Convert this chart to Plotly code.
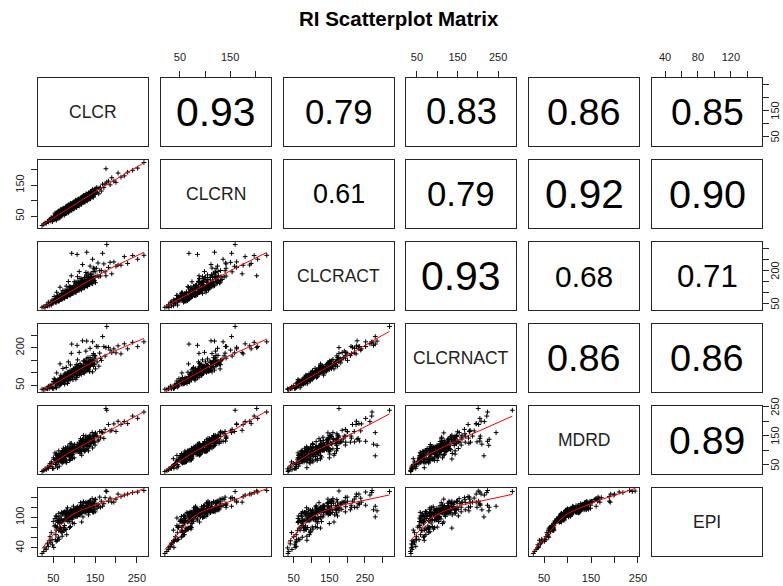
import numpy as np
import plotly.graph_objects as go

names = ["CLCR", "CLCRN", "CLCRACT", "CLCRNACT", "MDRD", "EPI"]

CLCR = [23, 27, 30, 33, 36, 38, 40, 42, 44, 45,
        47, 48, 50, 51, 52, 54, 55, 56, 57, 58,
        59, 60, 61, 62, 63, 64, 65, 66, 67, 68,
        69, 70, 70, 71, 72, 73, 74, 75, 76, 77,
        78, 79, 80, 80, 81, 82, 83, 84, 85, 86,
        87, 88, 88, 89, 90, 91, 92, 93, 94, 95,
        96, 96, 97, 98, 99, 100, 101, 102, 103, 104,
        104, 105, 106, 107, 108, 109, 110, 111, 112, 112,
        113, 114, 115, 116, 117, 118, 119, 120, 121, 122,
        123, 124, 125, 126, 127, 128, 129, 130, 131, 132,
        133, 134, 135, 136, 138, 139, 140, 141, 142, 144,
        145, 146, 148, 150, 151, 153, 155, 157, 159, 161,
        163, 165, 168, 171, 174, 176, 178, 182, 186, 190,
        195, 200, 205, 212, 220, 228, 240, 252, 267,
        55, 56, 57, 58, 59, 60, 61, 62, 63, 64,
        65, 66, 67, 68, 69, 70, 71, 72, 73, 74,
        75, 76, 77, 78, 79, 80, 81, 82, 83, 84,
        85, 86, 87, 88, 89, 90, 91, 92, 93, 94,
        95, 96, 97, 98, 99, 100, 101, 102, 103, 104,
        105, 106, 107, 108, 109, 110, 111, 112, 113, 114,
        115, 116, 117, 118, 119, 120, 121, 122, 123, 124,
        125, 126, 127, 128, 129, 130, 131, 132, 133, 134,
        135, 136, 137, 138, 139, 140, 141, 142, 143, 144,
        145, 146, 147, 148, 149, 150]
CLCRN = [20, 24, 28, 27, 33, 31, 37, 41, 34, 45,
         40, 33, 50, 38, 48, 60, 44, 57, 37, 54,
         56, 44, 65, 51, 62, 44, 58, 67, 53, 72,
         58, 51, 66, 55, 65, 76, 59, 73, 53, 70,
         72, 60, 80, 66, 77, 59, 73, 82, 68, 87,
         73, 66, 81, 70, 80, 91, 74, 88, 68, 85,
         87, 74, 95, 81, 92, 74, 88, 97, 82, 102,
         87, 80, 96, 85, 95, 105, 89, 103, 83, 99,
         101, 89, 109, 96, 107, 89, 103, 112, 97, 117,
         103, 96, 112, 101, 110, 121, 105, 119, 99, 116,
         117, 105, 126, 113, 125, 106, 120, 129, 115, 136,
         121, 114, 131, 120, 130, 142, 127, 141, 122, 140,
         142, 131, 153, 142, 154, 203, 160, 163, 151, 174,
         163, 159, 189, 176, 180, 192, 198, 205, 223,
         45, 57, 39, 53, 62, 47, 59, 53, 67, 47,
         60, 45, 66, 59, 55, 72, 54, 69, 62, 73,
         61, 74, 56, 70, 79, 63, 75, 70, 84, 64,
         77, 61, 82, 76, 72, 89, 71, 85, 78, 90,
         78, 91, 73, 86, 95, 80, 92, 87, 100, 80,
         93, 78, 99, 93, 88, 105, 87, 102, 95, 107,
         94, 107, 89, 103, 112, 97, 108, 103, 117, 97,
         110, 95, 115, 109, 105, 122, 104, 119, 111, 123,
         111, 124, 106, 120, 128, 113, 125, 120, 134, 114,
         126, 111, 132, 126, 122, 138]
CLCRACT = [34, 36, 33, 45, 40, 57, 41, 50, 56, 44,
           67, 53, 63, 54, 83, 62, 73, 57, 68, 102,
           66, 87, 64, 81, 61, 88, 74, 125, 73, 84,
           75, 85, 70, 96, 81, 110, 76, 89, 97, 75,
           111, 87, 100, 85, 130, 94, 110, 86, 102, 151,
           97, 128, 92, 116, 87, 126, 105, 177, 279, 118,
           104, 117, 97, 132, 111, 150, 104, 120, 132, 102,
           148, 116, 133, 274, 173, 125, 145, 113, 134, 196,
           127, 165, 121, 151, 113, 163, 136, 228, 132, 151,
           133, 151, 125, 170, 142, 192, 133, 284, 168, 129,
           189, 147, 169, 144, 221, 160, 185, 144, 170, 252,
           162, 212, 155, 195, 146, 211, 177, 235, 173, 200,
           176, 201, 279, 231, 195, 177, 319, 215, 238, 186,
           240, 220, 226, 225, 264, 233, 269, 252, 270,
           58, 64, 57, 73, 65, 78, 62, 74, 71, 63,
           88, 71, 79, 71, 97, 80, 87, 72, 93, 81,
           79, 87, 77, 98, 87, 104, 83, 98, 93, 82,
           115, 93, 103, 92, 125, 103, 111, 92, 119, 103,
           100, 110, 97, 123, 109, 130, 103, 122, 115, 102,
           142, 114, 126, 112, 153, 125, 135, 112, 145, 125,
           121, 133, 117, 148, 131, 156, 123, 146, 138, 122,
           169, 136, 150, 133, 181, 148, 160, 132, 170, 147,
           142, 156, 137, 173, 153, 182, 144, 170, 160, 141,
           196, 158, 173, 154, 209, 171]
CLCRNACT = [35, 34, 36, 38, 37, 47, 38, 49, 44, 44,
            55, 38, 66, 38, 77, 74, 57, 59, 41, 100,
            62, 68, 65, 69, 62, 57, 66, 136, 56, 91,
            58, 65, 65, 79, 70, 118, 63, 81, 68, 73,
            99, 67, 92, 74, 122, 72, 93, 86, 85, 144,
            81, 103, 82, 93, 71, 132, 84, 178, 215, 109,
            98, 85, 95, 117, 100, 113, 83, 120, 104, 106,
            119, 91, 125, 210, 152, 129, 114, 107, 91, 182,
            112, 137, 110, 129, 107, 116, 118, 228, 103, 148,
            102, 123, 111, 144, 118, 187, 113, 227, 127, 121,
            161, 117, 145, 126, 198, 129, 152, 136, 143, 224,
            135, 177, 133, 159, 116, 206, 144, 205, 127, 179,
            159, 150, 245, 205, 167, 201, 285, 202, 191, 181,
            196, 180, 208, 176, 216, 196, 222, 205, 224,
            48, 62, 41, 65, 70, 57, 60, 66, 72, 48,
            80, 52, 79, 59, 82, 81, 68, 64, 79, 84,
            62, 88, 55, 94, 89, 78, 81, 82, 97, 58,
            104, 69, 93, 83, 100, 109, 88, 81, 106, 97,
            85, 97, 73, 113, 100, 108, 93, 111, 114, 75,
            133, 82, 120, 90, 124, 125, 102, 106, 121, 126,
            101, 117, 94, 127, 127, 117, 110, 129, 126, 99,
            147, 110, 139, 108, 156, 136, 131, 111, 142, 142,
            112, 148, 105, 161, 144, 140, 135, 141, 154, 104,
            170, 126, 149, 136, 169, 168]
MDRD = [27, 30, 36, 33, 42, 38, 46, 54, 44, 60,
        54, 37, 74, 38, 68, 91, 66, 58, 71, 65,
        81, 40, 82, 80, 69, 82, 71, 70, 76, 70,
        77, 82, 87, 56, 98, 86, 84, 67, 70, 98,
        78, 97, 92, 69, 99, 58, 91, 112, 89, 87,
        105, 77, 105, 65, 96, 118, 80, 124, 81, 87,
        109, 72, 112, 111, 111, 74, 120, 106, 106, 95,
        103, 108, 101, 121, 106, 106, 111, 100, 101, 128,
        120, 89, 140, 105, 130, 83, 118, 138, 102, 151,
        114, 97, 132, 98, 127, 149, 124, 117, 130, 124,
        139, 98, 140, 139, 129, 141, 130, 129, 135, 131,
        137, 142, 148, 118, 160, 149, 149, 132, 136, 165,
        145, 164, 161, 141, 172, 244, 238, 189, 167, 169,
        191, 165, 200, 189, 199, 192, 218, 210, 232,
        51, 84, 51, 88, 61, 69, 74, 60, 98, 45,
        85, 63, 69, 88, 64, 94, 59, 96, 73, 107,
        60, 94, 71, 77, 109, 60, 99, 87, 86, 93,
        85, 84, 86, 102, 82, 123, 69, 105, 92, 96,
        108, 86, 97, 102, 96, 108, 99, 109, 103, 106,
        102, 112, 96, 112, 102, 110, 117, 97, 118, 122,
        95, 134, 97, 124, 114, 122, 117, 136, 113, 116,
        122, 100, 143, 104, 128, 136, 105, 145, 117, 143,
        113, 148, 115, 152, 124, 131, 137, 124, 161, 108,
        148, 125, 131, 152, 128, 157]
EPI = [29, 33, 40, 37, 48, 43, 54, 62, 50, 70,
       56, 46, 92, 41, 83, 98, 84, 66, 75, 81,
       94, 55, 91, 95, 74, 99, 89, 79, 92, 77,
       97, 93, 91, 70, 107, 107, 93, 80, 75, 111,
       97, 103, 106, 76, 114, 66, 95, 119, 101, 108,
       107, 92, 104, 80, 112, 113, 96, 113, 101, 97,
       105, 89, 114, 122, 109, 88, 110, 115, 117, 102,
       113, 107, 116, 115, 103, 116, 113, 117, 105, 121,
       110, 105, 129, 108, 123, 91, 123, 120, 101, 131,
       115, 115, 117, 109, 112, 130, 124, 113, 123, 113,
       130, 105, 115, 128, 120, 132, 116, 122, 115, 124,
       128, 120, 128, 111, 136, 124, 118, 126, 122, 140,
       120, 132, 122, 127, 139, 152, 151, 132, 138, 130,
       130, 136, 146, 141, 144, 146, 149, 150, 153,
       56, 103, 53, 102, 79, 80, 90, 61, 108, 57,
       94, 81, 79, 103, 72, 110, 63, 108, 93, 110,
       74, 95, 84, 95, 108, 77, 105, 102, 95, 110,
       92, 99, 106, 108, 99, 109, 82, 116, 99, 113,
       110, 101, 103, 115, 100, 114, 115, 112, 114, 102,
       110, 119, 102, 121, 107, 116, 113, 112, 110, 120,
       113, 120, 110, 109, 116, 123, 112, 129, 112, 118,
       115, 114, 118, 112, 127, 121, 115, 116, 117, 129,
       110, 132, 113, 130, 115, 126, 116, 120, 137, 111,
       129, 110, 121, 132, 115, 135]

# correlation labels shown in the upper panels (row, col, value)
corr_rows = [0, 0, 0, 0, 0, 1, 1, 1, 1, 2, 2, 2, 3, 3, 4]
corr_cols = [1, 2, 3, 4, 5, 2, 3, 4, 5, 3, 4, 5, 4, 5, 5]
corr_vals = [0.93, 0.79, 0.83, 0.86, 0.85, 0.61, 0.79, 0.92, 0.90, 0.93, 0.68, 0.71, 0.86, 0.86, 0.89]

# tick values and labels per variable
tick_vals = {
    "CLCR": [50, 100, 150, 200, 250],
    "CLCRN": [50, 100, 150, 200],
    "CLCRACT": [50, 100, 150, 200, 250, 300],
    "CLCRNACT": [50, 100, 150, 200, 250],
    "MDRD": [50, 100, 150, 200, 250],
    "EPI": [40, 60, 80, 100, 120, 140],
}
x_tick_text = {
    "CLCR": ["50", "", "150", "", "250"],
    "CLCRN": ["50", "", "150", ""],
    "CLCRACT": ["50", "", "150", "", "250", ""],
    "CLCRNACT": ["50", "", "150", "", "250"],
    "MDRD": ["50", "", "150", "", "250"],
    "EPI": ["40", "", "80", "", "120", ""],
}
y_tick_text = {
    "CLCR": ["50", "", "150", "", ""],
    "CLCRN": ["50", "", "150", ""],
    "CLCRACT": ["50", "", "", "200", "", ""],
    "CLCRNACT": ["50", "", "", "200", ""],
    "MDRD": ["50", "", "150", "", "250"],
    "EPI": ["40", "", "", "100", "", ""],
}

data = [np.array(v, dtype=float) for v in (CLCR, CLCRN, CLCRACT, CLCRNACT, MDRD, EPI)]


def lowess(x, y, f=2 / 3, iters=3):
    order = np.argsort(x, kind="mergesort")
    x = x[order]
    y = y[order]
    n = len(x)
    r = int(np.ceil(f * n))
    delta = np.ones(n)
    yest = np.zeros(n)
    for _ in range(iters + 1):
        for i in range(n):
            d = np.abs(x - x[i])
            h = max(np.sort(d)[r - 1], 1e-9)
            w = np.clip(d / h, 0, 1)
            w = (1 - w ** 3) ** 3 * delta
            sw = w.sum()
            xm = (w * x).sum() / sw
            ym = (w * y).sum() / sw
            sxx = (w * (x - xm) ** 2).sum()
            b = (w * (x - xm) * (y - ym)).sum() / sxx if sxx > 1e-12 else 0.0
            yest[i] = ym + b * (x[i] - xm)
        res = y - yest
        s = np.median(np.abs(res))
        if s == 0:
            break
        u = np.clip(res / (6 * s), -1, 1)
        delta = (1 - u ** 2) ** 2
    return x, yest


W, H = 783, 586
col_left = [38, 160.8, 283.6, 406.4, 529.2, 652]
row_top = [78, 160, 242, 324, 406, 488]
PW, PH = 110, 68

ranges = []
for v in data:
    lo, hi = v.min(), v.max()
    pad = 0.04 * (hi - lo)
    ranges.append([lo - pad, hi + pad])

fig = go.Figure()
layout = {}
annotations = []
FONT = "Liberation Sans, Arial, sans-serif"
FRAME = "#262626"
TICKFONT = dict(family=FONT, size=11, color="#222")

for i in range(6):
    for j in range(6):
        k = i * 6 + j + 1
        xa = "xaxis" if k == 1 else f"xaxis{k}"
        ya = "yaxis" if k == 1 else f"yaxis{k}"
        xr = "x" if k == 1 else f"x{k}"
        yr = "y" if k == 1 else f"y{k}"
        l = col_left[j]
        t = row_top[i]
        xcfg = dict(domain=[l / W, (l + PW) / W], range=ranges[j], anchor=yr,
                    showline=True, mirror=True, linecolor=FRAME, linewidth=1,
                    showgrid=False, zeroline=False, ticks="", showticklabels=False,
                    automargin=False)
        ycfg = dict(domain=[1 - (t + PH) / H, 1 - t / H], range=ranges[i], anchor=xr,
                    showline=True, mirror=True, linecolor=FRAME, linewidth=1,
                    showgrid=False, zeroline=False, ticks="", showticklabels=False,
                    automargin=False)
        vx = names[j]
        vy = names[i]
        tickstyle = dict(ticks="outside", ticklen=6, tickwidth=1, tickcolor=FRAME,
                         showticklabels=True, tickfont=TICKFONT)
        if i == 0 and j % 2 == 1:
            xcfg.update(tickstyle, side="top", tickvals=tick_vals[vx], ticktext=x_tick_text[vx],
                        ticklabelstandoff=6)
        if i == 5 and j % 2 == 0:
            xcfg.update(tickstyle, side="bottom", tickvals=tick_vals[vx], ticktext=x_tick_text[vx],
                        ticklabelstandoff=6)
        if j == 0 and i % 2 == 1:
            ycfg.update(tickstyle, side="left", tickvals=tick_vals[vy], ticktext=y_tick_text[vy],
                        tickangle=-90, ticklabelstandoff=3)
        if j == 5 and i % 2 == 0:
            # right-side ticks; their labels are placed as rotated annotations at the
            # axis values so that they stay inside the page
            ycfg.update(tickstyle, side="right", tickvals=tick_vals[vy], showticklabels=False)
            for val, txt in zip(tick_vals[vy], y_tick_text[vy]):
                if txt:
                    annotations.append(dict(x=775 / W, xref="paper", y=val, yref=yr, text=txt,
                                            textangle=-90, showarrow=False, xanchor="center",
                                            yanchor="middle", borderpad=0, font=TICKFONT))
        layout[xa] = xcfg
        layout[ya] = ycfg

        cx = (l + PW / 2) / W
        cy = 1 - (t + PH / 2) / H
        if i > j:
            fig.add_trace(go.Scatter(
                x=data[j], y=data[i], mode="markers", xaxis=xr, yaxis=yr,
                marker=dict(symbol="cross-thin", size=3.4, color="black",
                            line=dict(color="black", width=1)),
                showlegend=False, hoverinfo="skip"))
            sx, sy = lowess(data[j], data[i])
            fig.add_trace(go.Scatter(
                x=sx, y=sy, mode="lines", xaxis=xr, yaxis=yr,
                line=dict(color="red", width=1), showlegend=False, hoverinfo="skip"))
        else:
            # empty trace so that the panel frame and its axes are drawn
            fig.add_trace(go.Scatter(x=[None], y=[None], mode="markers", xaxis=xr, yaxis=yr,
                                     showlegend=False, hoverinfo="skip"))
            if i == j:
                annotations.append(dict(x=cx, y=cy, xref="paper", yref="paper", text=names[i],
                                        showarrow=False, xanchor="center", yanchor="middle",
                                        font=dict(family=FONT, size=17.5, color="#222")))

for r, c, v in zip(corr_rows, corr_cols, corr_vals):
    cx = (col_left[c] + PW / 2) / W
    cy = 1 - (row_top[r] + PH / 2) / H
    annotations.append(dict(x=cx, y=cy, xref="paper", yref="paper", text=f"{v:.2f}",
                            showarrow=False, xanchor="center", yanchor="middle",
                            font=dict(family=FONT, size=44 * v, color="black")))

annotations.append(dict(x=398.5 / W, y=1 - 18 / H, xref="paper", yref="paper",
                        text="<b>RI Scatterplot Matrix</b>", showarrow=False,
                        xanchor="center", yanchor="middle",
                        font=dict(family=FONT, size=20.5, color="black")))

fig.update_layout(width=W, height=H, margin=dict(l=0, r=0, t=0, b=0, pad=0),
                  plot_bgcolor="white", paper_bgcolor="white",
                  annotations=annotations, **layout)

fig.write_html("out.html")
